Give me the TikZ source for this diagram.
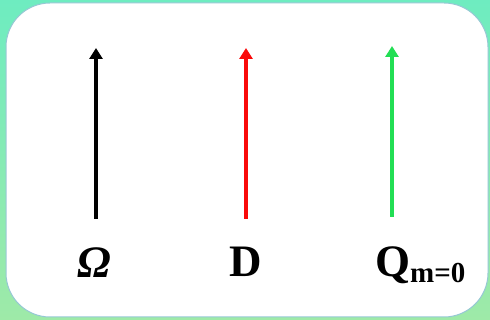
\documentclass[tikz,border=0pt]{standalone}
\usepackage{fontspec}
\setmainfont{Liberation Serif}
\usetikzlibrary{arrows.meta}
\definecolor{bgtop}{RGB}{110,236,192}
\definecolor{bgbot}{RGB}{158,234,168}
\definecolor{boxedge}{RGB}{150,200,212}
\definecolor{arrred}{RGB}{250,10,10}
\definecolor{arrgreen}{RGB}{34,222,84}
\tikzset{
  vec/.style={line width=3.6pt, -{Triangle[width=13pt,length=11pt]}},
  lab/.style={anchor=base, inner sep=0pt, font=\fontsize{45}{45}\selectfont\bfseries}
}
\begin{document}
\begin{tikzpicture}[x=1pt,y=-1pt]
\useasboundingbox (0,0) rectangle (490,320);
\shade[top color=bgtop, bottom color=bgbot] (0,0) rectangle (490,320);
\draw[boxedge, line width=1pt, fill=white, rounded corners=44pt] (6,3) rectangle (488,317);
\coordinate (a1) at (96,219); \coordinate (b1) at (96,48);
\coordinate (a2) at (246,219); \coordinate (b2) at (246,48);
\coordinate (a3) at (392,217); \coordinate (b3) at (392,46);
\draw[vec, black] (a1) -- (b1);
\draw[vec, arrred] (a2) -- (b2);
\draw[vec, arrgreen] (a3) -- (b3);
\node[lab] (om) at (94,278) {\itshape Ω};
\node[lab] (d) at (246,277) {D};
\node[lab, anchor=base west] (q) at (375,277) {Q\raisebox{-6pt}{\fontsize{29}{29}\selectfont m=0}};
\end{tikzpicture}
\end{document}
